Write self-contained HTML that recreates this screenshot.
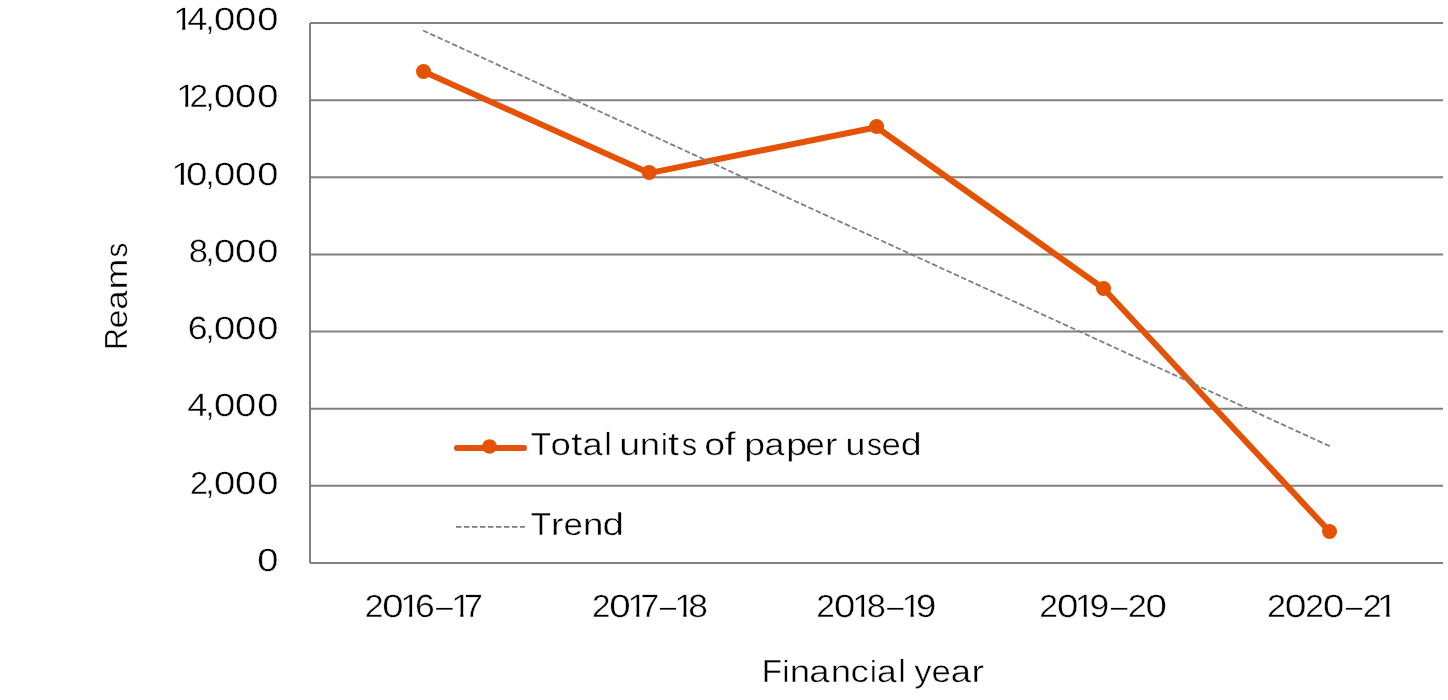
<!DOCTYPE html>
<html><head><meta charset="utf-8"><title>Chart</title><style>html,body{margin:0;padding:0;background:#fff;width:1448px;height:700px;overflow:hidden}svg{display:block;will-change:transform}</style></head>
<body>
<svg width="1448" height="700" viewBox="0 0 1448 700" font-family="'Liberation Sans', sans-serif" font-size="30.8" fill="#000" stroke-width="0">
<line x1="310.00" y1="23.00" x2="1443.00" y2="23.00" stroke="#808080" stroke-width="2"/>
<line x1="310.00" y1="100.14" x2="1443.00" y2="100.14" stroke="#808080" stroke-width="2"/>
<line x1="310.00" y1="177.29" x2="1443.00" y2="177.29" stroke="#808080" stroke-width="2"/>
<line x1="310.00" y1="254.43" x2="1443.00" y2="254.43" stroke="#808080" stroke-width="2"/>
<line x1="310.00" y1="331.57" x2="1443.00" y2="331.57" stroke="#808080" stroke-width="2"/>
<line x1="310.00" y1="408.71" x2="1443.00" y2="408.71" stroke="#808080" stroke-width="2"/>
<line x1="310.00" y1="485.86" x2="1443.00" y2="485.86" stroke="#808080" stroke-width="2"/>
<line x1="310.00" y1="563.00" x2="1443.00" y2="563.00" stroke="#808080" stroke-width="2"/>
<line x1="310.00" y1="23.00" x2="310.00" y2="563.00" stroke="#808080" stroke-width="2"/>
<polyline points="423.50,71.50 649.15,173.10 876.60,127.20 1103.50,288.50 1329.50,531.50" fill="none" stroke="#e35205" stroke-width="6" stroke-linejoin="round"/>
<circle cx="423.50" cy="71.50" r="7.5" fill="#e35205"/>
<circle cx="649.15" cy="172.40" r="7.5" fill="#e35205"/>
<circle cx="876.60" cy="126.50" r="7.5" fill="#e35205"/>
<circle cx="1103.50" cy="288.50" r="7.5" fill="#e35205"/>
<circle cx="1329.50" cy="531.50" r="7.5" fill="#e35205"/>
<line x1="423.00" y1="30.50" x2="1330.00" y2="446.30" stroke="#7f7f7f" stroke-width="1.8" stroke-dasharray="5.5 2.5"/>
<line x1="457.00" y1="448.00" x2="524.00" y2="448.00" stroke="#e35205" stroke-width="6" stroke-linecap="round"/>
<circle cx="489.50" cy="446.50" r="7.25" fill="#e35205"/>
<line x1="456.00" y1="526.90" x2="525.00" y2="526.90" stroke="#7f7f7f" stroke-width="1.8" stroke-dasharray="5.5 2.5"/>
<g stroke="#fff" stroke-width="0.4" text-rendering="geometricPrecision">
<defs><clipPath id="c1_0" clipPathUnits="userSpaceOnUse"><polygon points="171.30,0.15 186.50,0.15 186.50,26.74 185.30,26.74 185.30,32.15 182.18,32.15 182.18,26.74 171.30,26.74"/></clipPath><clipPath id="c1_1" clipPathUnits="userSpaceOnUse"><polygon points="174.30,77.10 189.50,77.10 189.50,103.69 188.30,103.69 188.30,109.10 185.18,109.10 185.18,103.69 174.30,103.69"/></clipPath><clipPath id="c1_2" clipPathUnits="userSpaceOnUse"><polygon points="169.17,155.15 185.20,155.15 185.20,181.74 184.00,181.74 184.00,187.15 180.66,187.15 180.66,181.74 169.17,181.74"/></clipPath><clipPath id="c1_3" clipPathUnits="userSpaceOnUse"><polygon points="398.20,587.35 413.40,587.35 413.40,613.94 412.20,613.94 412.20,619.35 409.08,619.35 409.08,613.94 398.20,613.94"/></clipPath><clipPath id="c1_4" clipPathUnits="userSpaceOnUse"><polygon points="449.27,587.35 464.60,587.35 464.60,613.94 463.40,613.94 463.40,619.35 460.24,619.35 460.24,613.94 449.27,613.94"/></clipPath><clipPath id="c1_5" clipPathUnits="userSpaceOnUse"><polygon points="625.44,587.35 640.50,587.35 640.50,613.94 639.30,613.94 639.30,619.35 636.22,619.35 636.22,613.94 625.44,613.94"/></clipPath><clipPath id="c1_6" clipPathUnits="userSpaceOnUse"><polygon points="672.23,587.35 687.70,587.35 687.70,613.94 686.50,613.94 686.50,619.35 683.31,619.35 683.31,613.94 672.23,613.94"/></clipPath><clipPath id="c1_7" clipPathUnits="userSpaceOnUse"><polygon points="850.30,587.35 865.50,587.35 865.50,613.94 864.30,613.94 864.30,619.35 861.18,619.35 861.18,613.94 850.30,613.94"/></clipPath><clipPath id="c1_8" clipPathUnits="userSpaceOnUse"><polygon points="899.43,587.35 914.90,587.35 914.90,613.94 913.70,613.94 913.70,619.35 910.51,619.35 910.51,613.94 899.43,613.94"/></clipPath><clipPath id="c1_9" clipPathUnits="userSpaceOnUse"><polygon points="1072.77,587.35 1088.10,587.35 1088.10,613.94 1086.90,613.94 1086.90,619.35 1083.74,619.35 1083.74,613.94 1072.77,613.94"/></clipPath><clipPath id="c1_10" clipPathUnits="userSpaceOnUse"><polygon points="1374.81,587.35 1390.70,587.35 1390.70,613.94 1389.50,613.94 1389.50,619.35 1386.20,619.35 1386.20,613.94 1374.81,613.94"/></clipPath></defs>
<text y="30.15"><tspan x="187.27" textLength="20.09" lengthAdjust="spacingAndGlyphs" font-size="32.3">4</tspan><tspan x="205.45" textLength="8.89" lengthAdjust="spacingAndGlyphs" font-size="32.0">,</tspan><tspan x="214.10" textLength="21.29" lengthAdjust="spacingAndGlyphs" font-size="32.0">0</tspan><tspan x="235.10" textLength="21.29" lengthAdjust="spacingAndGlyphs" font-size="32.0">0</tspan><tspan x="257.21" textLength="21.17" lengthAdjust="spacingAndGlyphs" font-size="32.0">0</tspan></text>
<text y="30.15" clip-path="url(#c1_0)"><tspan x="173.30" textLength="19.63" lengthAdjust="spacingAndGlyphs" font-size="32.3">1</tspan></text>
<text y="107.10"><tspan x="189.42" textLength="18.56" lengthAdjust="spacingAndGlyphs" font-size="31.8">2</tspan><tspan x="205.45" textLength="8.89" lengthAdjust="spacingAndGlyphs" font-size="32.0">,</tspan><tspan x="214.10" textLength="21.29" lengthAdjust="spacingAndGlyphs" font-size="32.0">0</tspan><tspan x="235.10" textLength="21.29" lengthAdjust="spacingAndGlyphs" font-size="32.0">0</tspan><tspan x="257.21" textLength="21.17" lengthAdjust="spacingAndGlyphs" font-size="32.0">0</tspan></text>
<text y="107.10" clip-path="url(#c1_1)"><tspan x="176.30" textLength="19.63" lengthAdjust="spacingAndGlyphs" font-size="32.3">1</tspan></text>
<text y="185.15"><tspan x="185.90" textLength="21.41" lengthAdjust="spacingAndGlyphs" font-size="32.0">0</tspan><tspan x="205.45" textLength="8.89" lengthAdjust="spacingAndGlyphs" font-size="32.0">,</tspan><tspan x="214.10" textLength="21.29" lengthAdjust="spacingAndGlyphs" font-size="32.0">0</tspan><tspan x="235.10" textLength="21.29" lengthAdjust="spacingAndGlyphs" font-size="32.0">0</tspan><tspan x="257.21" textLength="21.17" lengthAdjust="spacingAndGlyphs" font-size="32.0">0</tspan></text>
<text y="185.15" clip-path="url(#c1_2)"><tspan x="171.17" textLength="21.00" lengthAdjust="spacingAndGlyphs" font-size="32.3">1</tspan></text>
<text y="262.20"><tspan x="188.70" textLength="19.20" lengthAdjust="spacingAndGlyphs" font-size="32.1">8</tspan><tspan x="205.45" textLength="8.89" lengthAdjust="spacingAndGlyphs" font-size="32.0">,</tspan><tspan x="214.10" textLength="21.29" lengthAdjust="spacingAndGlyphs" font-size="32.0">0</tspan><tspan x="235.10" textLength="21.29" lengthAdjust="spacingAndGlyphs" font-size="32.0">0</tspan><tspan x="257.21" textLength="21.17" lengthAdjust="spacingAndGlyphs" font-size="32.0">0</tspan></text>
<text y="339.20"><tspan x="187.88" textLength="19.89" lengthAdjust="spacingAndGlyphs" font-size="32.1">6</tspan><tspan x="205.45" textLength="8.89" lengthAdjust="spacingAndGlyphs" font-size="32.0">,</tspan><tspan x="214.10" textLength="21.29" lengthAdjust="spacingAndGlyphs" font-size="32.0">0</tspan><tspan x="235.10" textLength="21.29" lengthAdjust="spacingAndGlyphs" font-size="32.0">0</tspan><tspan x="257.21" textLength="21.17" lengthAdjust="spacingAndGlyphs" font-size="32.0">0</tspan></text>
<text y="416.15"><tspan x="187.16" textLength="20.31" lengthAdjust="spacingAndGlyphs" font-size="32.3">4</tspan><tspan x="205.45" textLength="8.89" lengthAdjust="spacingAndGlyphs" font-size="32.0">,</tspan><tspan x="214.10" textLength="21.29" lengthAdjust="spacingAndGlyphs" font-size="32.0">0</tspan><tspan x="235.10" textLength="21.29" lengthAdjust="spacingAndGlyphs" font-size="32.0">0</tspan><tspan x="257.21" textLength="21.17" lengthAdjust="spacingAndGlyphs" font-size="32.0">0</tspan></text>
<text y="494.15"><tspan x="190.06" textLength="18.19" lengthAdjust="spacingAndGlyphs" font-size="31.8">2</tspan><tspan x="205.45" textLength="8.89" lengthAdjust="spacingAndGlyphs" font-size="32.0">,</tspan><tspan x="214.10" textLength="21.29" lengthAdjust="spacingAndGlyphs" font-size="32.0">0</tspan><tspan x="235.10" textLength="21.29" lengthAdjust="spacingAndGlyphs" font-size="32.0">0</tspan><tspan x="257.21" textLength="21.17" lengthAdjust="spacingAndGlyphs" font-size="32.0">0</tspan></text>
<text y="570.90"><tspan x="257.21" textLength="21.17" lengthAdjust="spacingAndGlyphs" font-size="32.0">0</tspan></text>
<text y="617.35"><tspan x="364.70" textLength="18.80" lengthAdjust="spacingAndGlyphs" font-size="31.8">2</tspan><tspan x="382.30" textLength="21.29" lengthAdjust="spacingAndGlyphs" font-size="32.0">0</tspan><tspan x="414.90" textLength="19.77" lengthAdjust="spacingAndGlyphs" font-size="32.1">6</tspan><tspan x="436.00" textLength="16.91" lengthAdjust="spacingAndGlyphs" font-size="32.0">–</tspan><tspan x="464.06" textLength="18.84" lengthAdjust="spacingAndGlyphs" font-size="32.3">7</tspan></text>
<text y="617.35" clip-path="url(#c1_3)"><tspan x="400.20" textLength="19.63" lengthAdjust="spacingAndGlyphs" font-size="32.3">1</tspan></text>
<text y="617.35" clip-path="url(#c1_4)"><tspan x="451.27" textLength="19.86" lengthAdjust="spacingAndGlyphs" font-size="32.3">1</tspan></text>
<text y="617.35"><tspan x="591.93" textLength="18.43" lengthAdjust="spacingAndGlyphs" font-size="31.8">2</tspan><tspan x="609.30" textLength="21.41" lengthAdjust="spacingAndGlyphs" font-size="32.0">0</tspan><tspan x="640.59" textLength="18.60" lengthAdjust="spacingAndGlyphs" font-size="32.3">7</tspan><tspan x="659.80" textLength="16.51" lengthAdjust="spacingAndGlyphs" font-size="32.0">–</tspan><tspan x="688.26" textLength="19.67" lengthAdjust="spacingAndGlyphs" font-size="32.1">8</tspan></text>
<text y="617.35" clip-path="url(#c1_5)"><tspan x="627.44" textLength="19.40" lengthAdjust="spacingAndGlyphs" font-size="32.3">1</tspan></text>
<text y="617.35" clip-path="url(#c1_6)"><tspan x="674.23" textLength="20.09" lengthAdjust="spacingAndGlyphs" font-size="32.3">1</tspan></text>
<text y="617.35"><tspan x="816.32" textLength="18.56" lengthAdjust="spacingAndGlyphs" font-size="31.8">2</tspan><tspan x="834.00" textLength="21.29" lengthAdjust="spacingAndGlyphs" font-size="32.0">0</tspan><tspan x="866.81" textLength="19.08" lengthAdjust="spacingAndGlyphs" font-size="32.1">8</tspan><tspan x="887.10" textLength="16.61" lengthAdjust="spacingAndGlyphs" font-size="32.0">–</tspan><tspan x="916.10" textLength="20.23" lengthAdjust="spacingAndGlyphs" font-size="32.1">9</tspan></text>
<text y="617.35" clip-path="url(#c1_7)"><tspan x="852.30" textLength="19.63" lengthAdjust="spacingAndGlyphs" font-size="32.3">1</tspan></text>
<text y="617.35" clip-path="url(#c1_8)"><tspan x="901.43" textLength="20.09" lengthAdjust="spacingAndGlyphs" font-size="32.3">1</tspan></text>
<text y="617.35"><tspan x="1039.21" textLength="18.68" lengthAdjust="spacingAndGlyphs" font-size="31.8">2</tspan><tspan x="1057.10" textLength="21.41" lengthAdjust="spacingAndGlyphs" font-size="32.0">0</tspan><tspan x="1089.55" textLength="19.63" lengthAdjust="spacingAndGlyphs" font-size="32.1">9</tspan><tspan x="1110.80" textLength="16.71" lengthAdjust="spacingAndGlyphs" font-size="32.0">–</tspan><tspan x="1127.68" textLength="19.04" lengthAdjust="spacingAndGlyphs" font-size="31.8">2</tspan><tspan x="1145.60" textLength="21.41" lengthAdjust="spacingAndGlyphs" font-size="32.0">0</tspan></text>
<text y="617.35" clip-path="url(#c1_9)"><tspan x="1074.77" textLength="19.86" lengthAdjust="spacingAndGlyphs" font-size="32.3">1</tspan></text>
<text y="617.35"><tspan x="1267.08" textLength="19.04" lengthAdjust="spacingAndGlyphs" font-size="31.8">2</tspan><tspan x="1284.84" textLength="21.71" lengthAdjust="spacingAndGlyphs" font-size="32.0">0</tspan><tspan x="1305.31" textLength="18.68" lengthAdjust="spacingAndGlyphs" font-size="31.8">2</tspan><tspan x="1323.00" textLength="21.29" lengthAdjust="spacingAndGlyphs" font-size="32.0">0</tspan><tspan x="1345.70" textLength="16.71" lengthAdjust="spacingAndGlyphs" font-size="32.0">–</tspan><tspan x="1362.69" textLength="18.92" lengthAdjust="spacingAndGlyphs" font-size="31.8">2</tspan></text>
<text y="617.35" clip-path="url(#c1_10)"><tspan x="1376.81" textLength="20.77" lengthAdjust="spacingAndGlyphs" font-size="32.3">1</tspan></text>
<text y="455.00"><tspan x="530.85" textLength="20.31" lengthAdjust="spacingAndGlyphs" font-size="32.1">T</tspan><tspan x="550.46" textLength="20.38" lengthAdjust="spacingAndGlyphs">o</tspan><tspan x="571.39" textLength="11.02" lengthAdjust="spacingAndGlyphs" font-size="32.5">t</tspan><tspan x="582.55" textLength="20.25" lengthAdjust="spacingAndGlyphs">a</tspan><tspan x="604.50" textLength="7.09" lengthAdjust="spacingAndGlyphs" font-size="31.9">l</tspan> <tspan x="619.18" textLength="20.90" lengthAdjust="spacingAndGlyphs">u</tspan><tspan x="639.76" textLength="20.42" lengthAdjust="spacingAndGlyphs">n</tspan><tspan x="660.92" textLength="6.78" lengthAdjust="spacingAndGlyphs" font-size="30.5">i</tspan><tspan x="668.14" textLength="11.02" lengthAdjust="spacingAndGlyphs" font-size="32.5">t</tspan><tspan x="681.84" textLength="15.37" lengthAdjust="spacingAndGlyphs">s</tspan> <tspan x="704.23" textLength="20.85" lengthAdjust="spacingAndGlyphs">o</tspan><tspan x="724.61" textLength="11.15" lengthAdjust="spacingAndGlyphs" font-size="32.9">f</tspan> <tspan x="744.18" textLength="20.90" lengthAdjust="spacingAndGlyphs">p</tspan><tspan x="764.48" textLength="19.92" lengthAdjust="spacingAndGlyphs">a</tspan><tspan x="786.19" textLength="20.78" lengthAdjust="spacingAndGlyphs">p</tspan><tspan x="805.63" textLength="19.20" lengthAdjust="spacingAndGlyphs">e</tspan><tspan x="824.90" textLength="12.51" lengthAdjust="spacingAndGlyphs">r</tspan> <tspan x="845.58" textLength="19.90" lengthAdjust="spacingAndGlyphs">u</tspan><tspan x="866.97" textLength="14.91" lengthAdjust="spacingAndGlyphs">s</tspan><tspan x="881.52" textLength="19.32" lengthAdjust="spacingAndGlyphs">e</tspan><tspan x="900.82" textLength="20.90" lengthAdjust="spacingAndGlyphs" font-size="31.7">d</tspan></text>
<text y="535.00"><tspan x="530.85" textLength="20.31" lengthAdjust="spacingAndGlyphs" font-size="32.1">T</tspan><tspan x="550.90" textLength="12.51" lengthAdjust="spacingAndGlyphs">r</tspan><tspan x="563.62" textLength="19.32" lengthAdjust="spacingAndGlyphs">e</tspan><tspan x="583.06" textLength="20.42" lengthAdjust="spacingAndGlyphs">n</tspan><tspan x="602.48" textLength="21.39" lengthAdjust="spacingAndGlyphs" font-size="31.7">d</tspan></text>
<text y="682.35"><tspan x="761.86" textLength="20.37" lengthAdjust="spacingAndGlyphs" font-size="32.1">F</tspan><tspan x="782.52" textLength="6.78" lengthAdjust="spacingAndGlyphs" font-size="30.5">i</tspan><tspan x="789.86" textLength="20.42" lengthAdjust="spacingAndGlyphs">n</tspan><tspan x="809.35" textLength="20.35" lengthAdjust="spacingAndGlyphs">a</tspan><tspan x="830.86" textLength="20.42" lengthAdjust="spacingAndGlyphs">n</tspan><tspan x="850.44" textLength="18.32" lengthAdjust="spacingAndGlyphs">c</tspan><tspan x="870.02" textLength="6.78" lengthAdjust="spacingAndGlyphs" font-size="30.5">i</tspan><tspan x="877.09" textLength="19.71" lengthAdjust="spacingAndGlyphs">a</tspan><tspan x="898.45" textLength="7.09" lengthAdjust="spacingAndGlyphs" font-size="31.9">l</tspan> <tspan x="914.42" textLength="16.85" lengthAdjust="spacingAndGlyphs">y</tspan><tspan x="931.62" textLength="19.32" lengthAdjust="spacingAndGlyphs">e</tspan><tspan x="950.65" textLength="20.25" lengthAdjust="spacingAndGlyphs">a</tspan><tspan x="971.60" textLength="12.51" lengthAdjust="spacingAndGlyphs">r</tspan></text>
<text transform="translate(126.95 700) rotate(-90)" y="0"><tspan x="350.00" textLength="22.01" lengthAdjust="spacingAndGlyphs" font-size="32.1">R</tspan><tspan x="371.54" textLength="19.08" lengthAdjust="spacingAndGlyphs">e</tspan><tspan x="390.31" textLength="19.49" lengthAdjust="spacingAndGlyphs">a</tspan><tspan x="410.54" textLength="30.91" lengthAdjust="spacingAndGlyphs">m</tspan><tspan x="442.47" textLength="14.91" lengthAdjust="spacingAndGlyphs">s</tspan></text>
</g>
</svg>
</body></html>
